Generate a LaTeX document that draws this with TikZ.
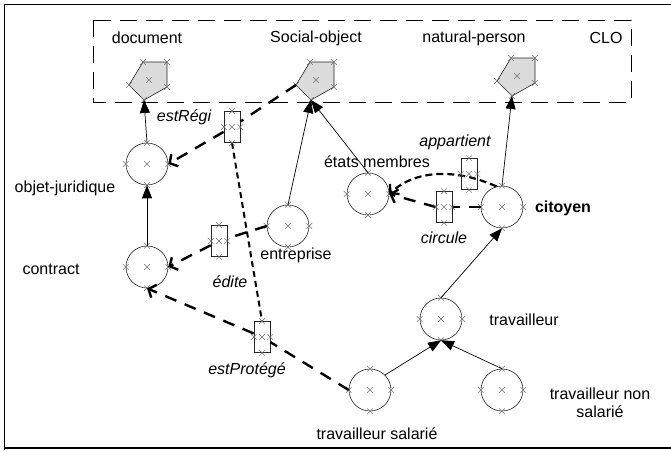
\documentclass[tikz,border=0pt]{standalone}
\usepackage{fontspec}
\setmainfont{Liberation Sans}
\usetikzlibrary{arrows.meta}
\newcommand\xm[1]{\draw[xmk] #1 ++(-2.8,-2.8) -- ++(5.6,5.6) ++(-5.6,0) -- ++(5.6,-5.6);}
\newcommand\mypent[2]{%
  \coordinate (#1) at #2;
  \draw[pentst] (#1) ++(-6,-18) coordinate (#1TL) -- ++(24,0) coordinate (#1TR) -- ++(0,25) coordinate (#1R) -- ++(-23,13) coordinate (#1B) -- ++(-15,-15) coordinate (#1L) -- cycle;
  \foreach \v in {TL,TR,R,B,L}{\xm{(#1\v)}}
  \xm{(#1)}}
\begin{document}
\begin{tikzpicture}[x=1pt,y=-1pt,
  xmk/.style={draw=black!55,line width=0.5pt},
  pentst/.style={draw=black!85,fill=black!14,line width=0.6pt},
  cls/.style={circle,draw=black!85,line width=0.6pt,minimum size=42pt,inner sep=0pt},
  rel/.style={rectangle,draw=black!85,line width=0.7pt,minimum width=16pt,minimum height=31pt,inner sep=0pt},
  lbl/.style={font=\fontsize{16}{18}\selectfont,inner sep=0pt},
  rlbl/.style={font=\fontsize{16}{18}\selectfont\itshape,inner sep=0pt},
  isa/.style={line width=0.7pt,-{Triangle[length=13pt,width=10pt]}},
  relA/.style={line width=2.4pt,dash pattern=on 12pt off 9pt},
  relArr/.style={relA,-{Straight Barb[length=6pt,width=14pt]}},
  relB/.style={line width=2.2pt,dash pattern=on 7pt off 4pt,-{Straight Barb[length=6pt,width=14pt]}},
  relC/.style={line width=2pt,dash pattern=on 6pt off 4pt},
  clo/.style={line width=1pt,dash pattern=on 17pt off 9pt}
]
\useasboundingbox (0,0) rectangle (671,450);
% outer frame
\draw[line width=0.8pt] (4,450) -- (4,4) -- (671,4);
\draw[line width=1.5pt] (4,448) -- (671,448);
% CLO package
\draw[clo] (93,20) rectangle (631,102);
\node[lbl] (tdoc) at (147,38) {document};
\node[lbl] (tsoc) at (316,38) {Social-object};
\node[lbl] (tnat) at (474,38) {natural-person};
\node[lbl] (tclo) at (606,38) {CLO};
\mypent{doc}{(149,80)}
\mypent{soc}{(316,80)}
\mypent{nat}{(517,76)}
% class circles
\node[cls] (oj) at (147,164) {};
\node[cls] (ct) at (147,267) {};
\node[cls] (en) at (288,226) {};
\node[cls] (em) at (368,194) {};
\node[cls] (ci) at (502,207) {};
\node[cls] (tr) at (441,319) {};
\node[cls] (ts) at (370,390) {};
\node[cls] (tn) at (502,390) {};
\foreach \n in {oj,ct,en,em,ci,tr,ts,tn}{\foreach \a in {north,south,east,west,center}{\xm{(\n.\a)}}}
% class labels
\node[lbl] (ojl) at (65,188) {objet-juridique};
\node[lbl] (ctl) at (51,269) {contract};
\node[lbl] (enl) at (296,255) {entreprise};
\node[lbl] (eml) at (377,162) {états membres};
\node[lbl,font=\fontsize{16}{18}\selectfont\bfseries] (cil) at (563,208) {citoyen};
\node[lbl] (trl) at (524,320) {travailleur};
\node[lbl,align=center] (tnl) at (600,403) {travailleur non\\salarié};
\node[lbl] (tsl) at (377,434) {travailleur salarié};
% relation boxes
\node[rel] (rg) at (232,127) {};
\node[rel] (ed) at (219,241) {};
\node[rel] (ep) at (262,337) {};
\node[rel] (ap) at (469,174) {};
\node[rel] (cc) at (444,207) {};
% relation labels
\node[rlbl] (rgl) at (184,117) {estRégi};
\node[rlbl] (edl) at (230,282) {édite};
\node[rlbl] (epl) at (247,370) {estProtégé};
\node[rlbl] (apl) at (455,142) {appartient};
\node[rlbl] (ccl) at (444,238) {circule};
% inheritance connectors
\draw[isa] (oj.north) -- (docB);
\draw[isa] (ct.north) -- (oj.south);
\draw[isa] (en.north) -- (socB);
\draw[isa] (em.north) -- (socB);
\draw[isa] (ci.north) -- (natB);
\draw[isa] (tr.north) -- (ci.south);
\draw[isa] (ts.north east) -- (tr.south);
\draw[isa] (tn.north) -- (tr.south);
% relation connectors
\draw[relA] (socL) -- (rg);
\draw[relArr] (rg) -- (oj.east);
\draw[relA] (en.west) -- (ed);
\draw[relArr] (ed) -- (ct.east);
\draw[relA] (ts.west) -- (ep);
\draw[relArr] (ep) -- (ct.south);
\draw[relC] (rg.south) -- (ep.north);
\draw[relB] (ci.105) .. controls (455,168) and (415,170) .. (em.east);
\draw[relA] (ci.west) -- (cc.east);
\draw[relArr] (cc.west) -- (em.east);
% x marks on relation boxes
\foreach \n in {rg,ed,ep,ap,cc}{\foreach \a in {north,south,east,west,center}{\xm{(\n.\a)}}}
\end{tikzpicture}
\end{document}
